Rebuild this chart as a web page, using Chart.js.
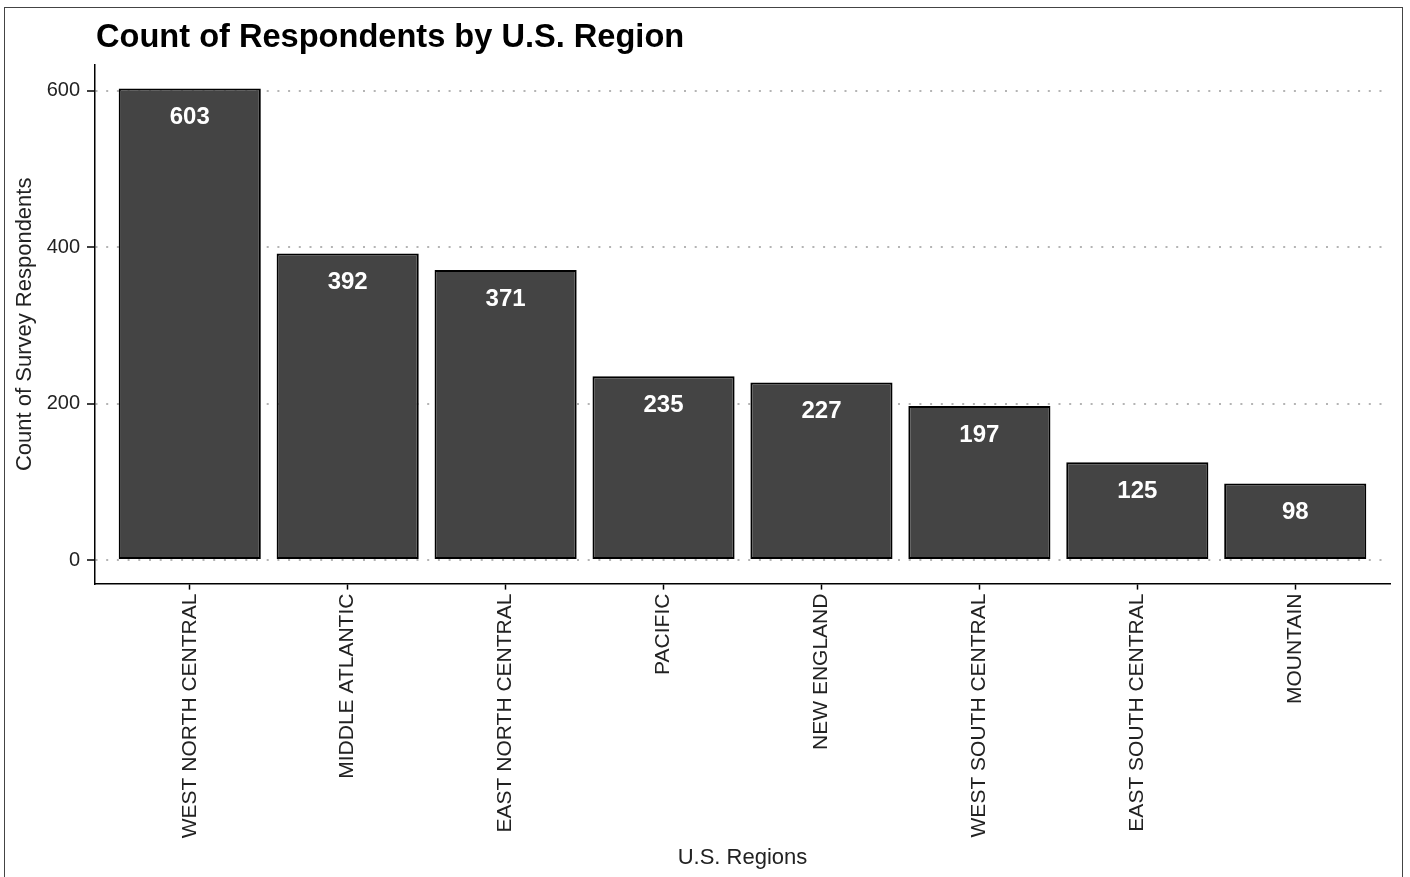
<!DOCTYPE html>
<html>
<head>
<meta charset="utf-8">
<script src="https://cdn.jsdelivr.net/npm/chart.js@4/dist/chart.umd.min.js"></script>
<style>
  html, body { margin: 0; padding: 0; background: #fff; }
  canvas { display: block; }
</style>
</head>
<body>
<canvas id="regionChart" width="1410" height="877"></canvas>
<script>
// datos
const regions = ['WEST NORTH CENTRAL', 'MIDDLE ATLANTIC', 'EAST NORTH CENTRAL', 'PACIFIC',
                 'NEW ENGLAND', 'WEST SOUTH CENTRAL', 'EAST SOUTH CENTRAL', 'MOUNTAIN'];
const counts = [603, 392, 371, 235, 227, 197, 125, 98];
const yTicks = [0, 200, 400, 600];

const FONT = "'Liberation Sans', Arial, Helvetica, sans-serif";

// expansión tipo ggplot: 5% en y, 0.6 unidades en x discreto
const yMax = Math.max(...counts);
const yPad = yMax * 0.05;

// fondo + marco + título
const frame = {
    id: 'frame',
    beforeDraw(chart) {
        const { ctx, width, height, chartArea } = chart;
        ctx.save();
        ctx.fillStyle = '#fff';
        ctx.fillRect(0, 0, width, height);
        ctx.strokeStyle = '#444';
        ctx.lineWidth = 1;
        ctx.strokeRect(4.5, 7.5, 1398, 900);
        ctx.fillStyle = '#000';
        ctx.font = `bold 32.6px ${FONT}`;
        ctx.textBaseline = 'alphabetic';
        ctx.textAlign = 'left';
        ctx.fillText('Count of Respondents by U.S. Region', chartArea.left + 1, 47);
        ctx.restore();
    }
};

// etiquetas blancas dentro de cada barra
const barLabels = {
    id: 'barLabels',
    afterDatasetsDraw(chart) {
        const { ctx } = chart;
        const meta = chart.getDatasetMeta(0);
        ctx.save();
        ctx.fillStyle = '#fff';
        ctx.font = `bold 24px ${FONT}`;
        ctx.textAlign = 'center';
        ctx.textBaseline = 'middle';
        meta.data.forEach((bar, i) => {
            ctx.fillText(String(counts[i]), bar.x, bar.y + 29);
        });
        ctx.restore();
    }
};

new Chart(document.getElementById('regionChart'), {
    type: 'bar',
    data: {
        datasets: [{
            data: counts.map((c, i) => ({ x: i, y: c })),
            backgroundColor: '#444444',
            borderColor: '#000000',
            borderWidth: 2,
            borderSkipped: false,
            categoryPercentage: 0.9,
            barPercentage: 1
        }]
    },
    options: {
        responsive: false,
        animation: false,
        layout: { padding: { left: 0, right: 20, top: 65, bottom: 0 } },
        plugins: {
            legend: { display: false },
            tooltip: { enabled: false }
        },
        scales: {
            x: {
                type: 'linear',
                offset: false,
                min: -0.6,
                max: regions.length - 1 + 0.6,
                afterBuildTicks: s => { s.ticks = regions.map((_, i) => ({ value: i })); },
                afterFit: s => { s.height = 877 - 583.6; },
                ticks: {
                    autoSkip: false,
                    minRotation: 90,
                    maxRotation: 90,
                    padding: 4,
                    color: '#222',
                    font: { family: FONT, size: 21 },
                    callback: v => regions[v]
                },
                grid: {
                    offset: false,
                    drawOnChartArea: false,
                    drawTicks: true,
                    tickLength: 6,
                    tickColor: '#000',
                    tickWidth: 1.5
                },
                border: { display: true, color: '#000', width: 1.5 },
                title: {
                    display: true,
                    text: 'U.S. Regions',
                    color: '#222',
                    font: { family: FONT, size: 22 },
                    padding: { top: 0, bottom: 6 }
                }
            },
            y: {
                min: -yPad,
                max: yMax + yPad,
                afterBuildTicks: s => { s.ticks = yTicks.map(v => ({ value: v })); },
                afterFit: s => { s.width = 95; },
                ticks: {
                    padding: 7,
                    color: '#222',
                    font: { family: FONT, size: 20 }
                },
                grid: {
                    color: '#b4b4b4',
                    lineWidth: 2,
                    drawTicks: true,
                    tickLength: 8,
                    tickColor: '#000',
                    tickWidth: 1.5
                },
                border: { display: true, color: '#000', width: 1.5, dash: [2, 8.7] },
                title: {
                    display: true,
                    text: 'Count of Survey Respondents',
                    color: '#222',
                    font: { family: FONT, size: 22 },
                    padding: { top: 12, bottom: 0 }
                }
            }
        }
    },
    plugins: [frame, barLabels]
});
</script>
</body>
</html>
